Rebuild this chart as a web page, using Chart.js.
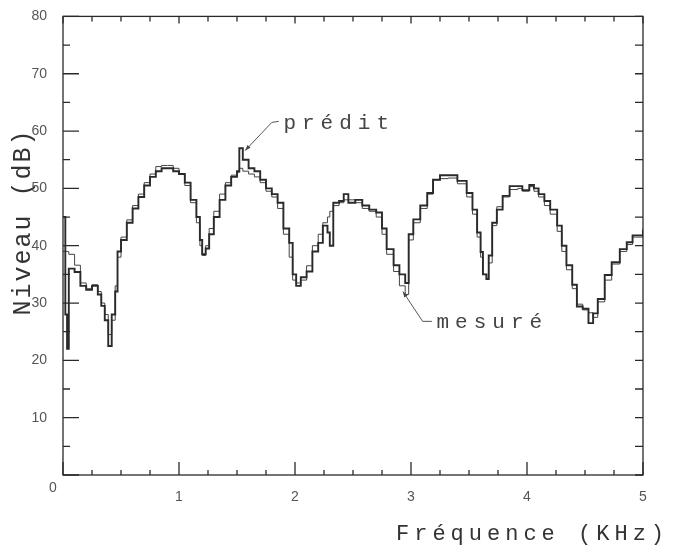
<!DOCTYPE html>
<html>
<head>
<meta charset="utf-8">
<script src="https://cdn.jsdelivr.net/npm/chart.js@4"></script>
<style>
  body { margin: 0; background: #fff; }
  canvas { display: block; }
</style>
</head>
<body>
<canvas id="myChart" width="675" height="553"></canvas>
<script>
// frequency points (kHz) where the staircase changes level
const freq = [0, 0.02, 0.035, 0.05, 0.10, 0.15, 0.20, 0.25, 0.30, 0.33, 0.36, 0.39, 0.42, 0.45, 0.47, 0.50,
    0.55, 0.60, 0.65, 0.70, 0.75, 0.80, 0.85, 0.90, 0.95, 1.00, 1.05, 1.10, 1.15, 1.18, 1.20, 1.23, 1.26,
    1.30, 1.35, 1.40, 1.45, 1.50, 1.52, 1.55, 1.60, 1.65, 1.70, 1.75, 1.80, 1.85, 1.90, 1.95, 1.98, 2.01,
    2.05, 2.10, 2.15, 2.20, 2.24, 2.28, 2.30, 2.33, 2.38, 2.42, 2.46, 2.52, 2.58, 2.64, 2.70, 2.75, 2.79,
    2.85, 2.90, 2.95, 2.98, 3.02, 3.08, 3.14, 3.19, 3.25, 3.32, 3.40, 3.48, 3.53, 3.57, 3.60, 3.62, 3.65,
    3.67, 3.70, 3.74, 3.79, 3.85, 3.92, 3.96, 4.02, 4.06, 4.10, 4.15, 4.20, 4.26, 4.30, 4.34, 4.39, 4.43,
    4.48, 4.53, 4.57, 4.61, 4.67, 4.73, 4.80, 4.86, 4.91, 5.00];

// level (dB), predicted
const predit = [45, 28, 22, 36, 35.4, 33, 32.3, 33, 31.5, 29.5, 27, 22.5, 28, 32, 39, 41,
    44, 46.5, 48.5, 50.5, 52, 53, 53.5, 53.5, 53, 52.5, 51, 48, 45, 41, 38.5, 39.5, 42,
    45, 48, 50.5, 52, 53, 57, 55, 53.5, 53, 51.5, 50, 49, 47.5, 43, 40.5, 35, 33,
    34.5, 35.5, 39, 40.5, 43.5, 42.3, 40, 47.5, 47.8, 49, 47.5, 48, 47, 46.3, 45.8, 43, 39.4,
    36.6, 35, 33.5, 42, 44.6, 47, 49.2, 51.5, 52.3, 52.3, 51.3, 49.2, 46.3, 42.3, 38.9, 35, 34.2,
    38.3, 44, 46.3, 48.7, 50.4, 50.4, 49.7, 50.6, 50, 49, 47.8, 46.3, 43.5, 40, 36.6, 33.2, 29.4,
    29, 26.5, 28.2, 30.7, 34.9, 37.1, 39.4, 40.6, 41.8, 42.8];

// level (dB), measured
const mesure = [39, 39, 39, 38.5, 36.6, 33.5, 32.5, 33.2, 32, 30, 28, 24.5, 27, 33, 38, 41.5,
    44.5, 47, 49, 51, 52.5, 53.8, 54, 54, 53.5, 52.5, 50.5, 47.5, 44, 40, 38.3, 40, 43,
    46, 49, 51, 52.3, 52.8, 53.5, 53, 52.5, 52, 51, 49.5, 48.5, 46.5, 42, 38, 34, 33.5,
    34, 36.5, 40, 42, 44, 45, 46, 47, 47.5, 48, 48, 47.5, 46.5, 46, 45, 42, 38.5,
    35.5, 33, 31.5, 41, 44, 46.5, 49, 51.5, 51.7, 51.8, 50.8, 48.5, 45.5, 41.5, 38, 35, 34.2,
    37, 43.5, 46.8, 48.5, 49.8, 50, 49.5, 50.3, 49.5, 48.5, 47, 45.5, 42.5, 39, 35.8, 32.5, 29.8,
    28.8, 28.3, 27.5, 30.2, 34, 36.8, 39, 40.2, 41.5, 43];

const xTicks = [0, 1, 2, 3, 4, 5];
const yTicks = [0, 10, 20, 30, 40, 50, 60, 70, 80];

const ink = "#2a2a2a";
const mono = "'Liberation Mono', 'DejaVu Sans Mono', monospace";

const toPoints = (ys) => freq.map((f, i) => ({ x: f, y: ys[i] }));

// frame with inward ticks on all four sides
const frameTicks = {
    id: "frameTicks",
    afterDraw(chart) {
        const { ctx, chartArea: a, scales } = chart;
        const xs = scales.x, ys = scales.y;
        ctx.save();
        ctx.strokeStyle = ink;
        ctx.lineWidth = 1.3;
        ctx.strokeRect(a.left, a.top, a.right - a.left, a.bottom - a.top);
        ctx.beginPath();
        for (let v = 0; v <= 5.001; v += 0.25) {
            const px = xs.getPixelForValue(v);
            const major = Math.abs(v - Math.round(v)) < 0.01;
            const len = major ? 13 : 5;
            ctx.moveTo(px, a.bottom); ctx.lineTo(px, a.bottom - len);
            ctx.moveTo(px, a.top); ctx.lineTo(px, a.top + (major ? 7 : 5));
        }
        for (let v = 0; v <= 80; v += 5) {
            const py = ys.getPixelForValue(v);
            const major = v % 10 === 0;
            ctx.moveTo(a.left, py); ctx.lineTo(a.left + (major ? 16 : 7), py);
            ctx.moveTo(a.right, py); ctx.lineTo(a.right - 8, py);
        }
        ctx.stroke();

        // "0" label of the x axis sits left of the corner
        ctx.fillStyle = "#555";
        ctx.font = "14px 'Liberation Sans', Arial, sans-serif";
        ctx.textAlign = "center";
        ctx.textBaseline = "middle";
        ctx.fillText("0", a.left - 10, a.bottom + 13);

        // axis titles
        ctx.fillStyle = "#333";
        ctx.font = "22px " + mono;
        ctx.letterSpacing = "5px";
        ctx.textAlign = "left";
        ctx.fillText("Fréquence (KHz)", 396, 534);

        ctx.save();
        ctx.translate(23, 222);
        ctx.rotate(-Math.PI / 2);
        ctx.font = "25px " + mono;
        ctx.letterSpacing = "2px";
        ctx.textAlign = "center";
        ctx.fillText("Niveau (dB)", 0, 0);
        ctx.restore();

        // annotations with leader lines
        const P = (x, y) => [xs.getPixelForValue(x), ys.getPixelForValue(y)];
        ctx.font = "21px " + mono;
        ctx.letterSpacing = "6px";
        ctx.textAlign = "left";
        ctx.fillStyle = "#444";
        let t = P(1.90, 61.3);
        ctx.fillText("prédit", t[0], t[1]);
        t = P(3.22, 26.6);
        ctx.fillText("mesuré", t[0], t[1]);

        ctx.lineWidth = 1;
        ctx.strokeStyle = "#555";
        const leader = (pts) => {
            ctx.beginPath();
            pts.forEach((p, i) => {
                const q = P(p[0], p[1]);
                if (i === 0) ctx.moveTo(q[0], q[1]); else ctx.lineTo(q[0], q[1]);
            });
            ctx.stroke();
            const a1 = P(pts[pts.length - 2][0], pts[pts.length - 2][1]);
            const a2 = P(pts[pts.length - 1][0], pts[pts.length - 1][1]);
            const ang = Math.atan2(a2[1] - a1[1], a2[0] - a1[0]);
            ctx.beginPath();
            ctx.moveTo(a2[0], a2[1]);
            ctx.lineTo(a2[0] - 6 * Math.cos(ang - 0.35), a2[1] - 6 * Math.sin(ang - 0.35));
            ctx.lineTo(a2[0] - 6 * Math.cos(ang + 0.35), a2[1] - 6 * Math.sin(ang + 0.35));
            ctx.closePath();
            ctx.fillStyle = "#444";
            ctx.fill();
        };
        leader([[1.86, 61.7], [1.80, 61.5], [1.57, 56.6]]);
        leader([[3.18, 26.8], [3.10, 26.8], [2.93, 32.0]]);
        ctx.restore();
    }
};

new Chart("myChart", {
    type: "line",
    data: {
        datasets: [
            {
                label: "prédit",
                data: toPoints(predit),
                borderColor: ink,
                borderWidth: 1.9,
                stepped: true,
                pointRadius: 0,
                fill: false
            },
            {
                label: "mesuré",
                data: toPoints(mesure),
                borderColor: "#444",
                borderWidth: 1,
                stepped: true,
                pointRadius: 0,
                fill: false
            }
        ]
    },
    options: {
        responsive: false,
        animation: false,
        devicePixelRatio: 1,
        layout: { padding: { top: 12, right: 32, left: 0, bottom: 0 } },
        plugins: { legend: { display: false }, tooltip: { enabled: false } },
        scales: {
            x: {
                type: "linear",
                min: 0,
                max: 5,
                afterBuildTicks: (s) => { s.ticks = xTicks.map(v => ({ value: v })); },
                afterFit: (s) => { s.height = 78; },
                grid: { display: false },
                border: { display: false },
                ticks: {
                    color: "#555",
                    padding: 6,
                    font: { family: "'Liberation Sans', Arial, sans-serif", size: 14 },
                    callback: (v) => v === 0 ? "" : String(v)
                }
            },
            y: {
                min: 0,
                max: 80,
                afterBuildTicks: (s) => { s.ticks = yTicks.map(v => ({ value: v })); },
                afterFit: (s) => { s.width = 63; },
                grid: { display: false },
                border: { display: false },
                ticks: {
                    color: "#555",
                    padding: 8,
                    font: { family: "'Liberation Sans', Arial, sans-serif", size: 14 },
                    callback: (v) => v === 0 ? "" : String(v)
                }
            }
        }
    },
    plugins: [frameTicks]
});
</script>
</body>
</html>
